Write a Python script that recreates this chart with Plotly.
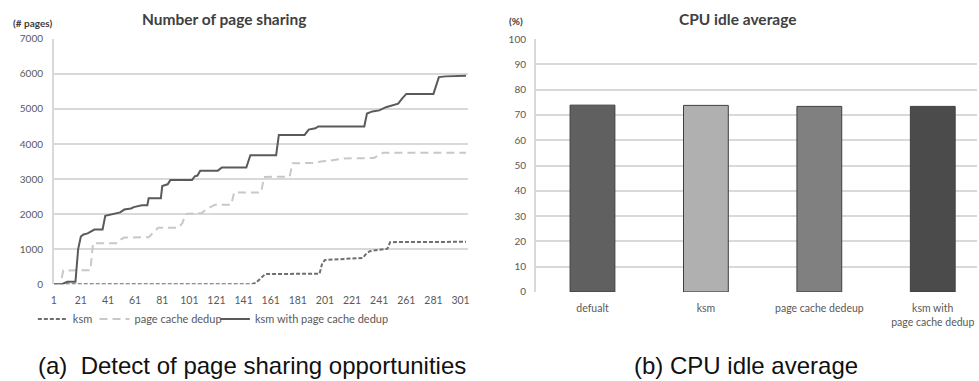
import plotly.graph_objects as go

# ---- Left chart data: Number of page sharing ----
ksm_x = [1, 147, 150, 154, 157, 197, 199, 201, 215, 229, 231, 234, 240, 245, 247, 249, 305]
ksm_y = [0, 0, 40, 200, 290, 300, 600, 690, 720, 750, 850, 940, 980, 1000, 1010, 1200, 1210]

pc_x = [1, 6, 8, 28, 30, 48, 51, 53, 71, 74, 78, 93, 96, 98, 110, 114, 120, 132, 134, 154,
        156, 175, 177, 193, 198, 204, 209, 215, 237, 241, 244, 305]
pc_y = [0, 0, 390, 400, 1170, 1170, 1290, 1330, 1340, 1450, 1610, 1610, 1750, 2000, 2030, 2150,
        2270, 2270, 2620, 2620, 3060, 3070, 3450, 3460, 3500, 3520, 3560, 3590, 3600, 3700, 3750, 3750]

both_x = [1, 7, 11, 17, 19, 21, 23, 26, 31, 37, 39, 48, 50, 53, 58, 60, 66, 70, 71, 80,
          81, 85, 87, 103, 105, 107, 109, 122, 125, 143, 146, 165, 167, 186, 189, 194, 196, 230,
          232, 236, 241, 246, 250, 255, 258, 261, 281, 285, 290, 299, 305]
both_y = [0, 0, 70, 70, 1000, 1360, 1420, 1450, 1560, 1560, 1950, 2020, 2050, 2130, 2160, 2200,
          2250, 2250, 2450, 2450, 2800, 2850, 2970, 2975, 3080, 3100, 3240, 3240, 3330, 3330, 3680,
          3680, 4260, 4260, 4410, 4450, 4500, 4500, 4870, 4930, 4960, 5050, 5100, 5150, 5300, 5430,
          5430, 5910, 5930, 5950, 5950]

left_xticks = list(range(1, 302, 20))
left_yticks = list(range(0, 7001, 1000))

# ---- Right chart data: CPU idle average ----
cpu_categories = ["defualt", "ksm", "page cache dedeup", "ksm with<br>page cache dedup"]
cpu_values = [73.9, 73.8, 73.4, 73.4]
cpu_colors = ["#606060", "#b0b0b0", "#808080", "#4b4b4b"]
right_yticks = list(range(0, 101, 10))

W, H = 979, 381
FONT = "Lato, Carlito, Open Sans, sans-serif"
TICK = "#595959"
GRID = "#d9d9d9"

fig = go.Figure()

fig.add_trace(go.Scatter(x=ksm_x, y=ksm_y, mode="lines", name="ksm",
                         line=dict(color="#6e6e6e", width=2, dash="4px,2px"),
                         xaxis="x", yaxis="y", legend="legend"))
fig.add_trace(go.Scatter(x=pc_x, y=pc_y, mode="lines", name="page cache dedup",
                         line=dict(color="#c8c8c8", width=2, dash="8px,5px"),
                         xaxis="x", yaxis="y", legend="legend2"))
fig.add_trace(go.Scatter(x=both_x, y=both_y, mode="lines", name="ksm with page cache dedup",
                         line=dict(color="#5a5a5a", width=2),
                         xaxis="x", yaxis="y", legend="legend3"))

fig.add_trace(go.Bar(x=cpu_categories, y=cpu_values, marker=dict(color=cpu_colors,
                     line=dict(color="#3f3f3f", width=1)),
                     width=0.395, showlegend=False, xaxis="x2", yaxis="y2"))


def px_x(p):
    return p / W


def px_y(p):
    return 1 - p / H


def leg(xpx):
    return dict(orientation="h", x=px_x(xpx), y=px_y(323), xanchor="left", yanchor="middle",
                font=dict(size=11, color=TICK), itemwidth=30, bgcolor="rgba(0,0,0,0)")


cap_font = dict(family="Liberation Sans, Arial, sans-serif", size=24, color="#111111")
title_font = dict(size=15.5, color="#404040")

fig.update_layout(
    width=W, height=H,
    margin=dict(l=0, r=0, t=0, b=0),
    paper_bgcolor="white", plot_bgcolor="white",
    font=dict(family=FONT, size=10, color=TICK),
    xaxis=dict(domain=[px_x(51), px_x(467)], range=[1, 306.2], tickvals=left_xticks,
               showgrid=False, zeroline=False, showline=False, ticks="",
               ticklabelstandoff=8,
               tickfont=dict(size=10.5, color=TICK), anchor="y"),
    yaxis=dict(domain=[px_y(287), px_y(33)], range=[0, 7000], tickvals=left_yticks,
               showgrid=True, gridcolor=GRID, gridwidth=1.5, zeroline=False,
               showline=True, linecolor=GRID, linewidth=1.5, ticks="",
               ticklabelstandoff=7,
               tickfont=dict(size=10, color=TICK), anchor="x"),
    xaxis2=dict(domain=[px_x(535.5), 1.0], range=[-0.5, 3.39], type="category",
                showgrid=False, zeroline=False, showline=False, ticks="",
                ticklabelstandoff=9,
                tickfont=dict(size=10.5, color=TICK), anchor="y2"),
    yaxis2=dict(domain=[px_y(295), px_y(33.3)], range=[0, 100], tickvals=right_yticks,
                showgrid=True, gridcolor=GRID, gridwidth=1.5, zeroline=False,
                showline=True, linecolor=GRID, linewidth=1.5, ticks="",
                ticklabelstandoff=6,
                tickfont=dict(size=10, color=TICK), anchor="x2"),
    legend=leg(30),
    legend2=leg(92),
    legend3=leg(213),
    annotations=[
        dict(text="<b>Number of page sharing</b>", x=px_x(222), y=px_y(12), xref="paper",
             yref="paper", showarrow=False, xanchor="center", yanchor="middle",
             font=title_font),
        dict(text="<b>(# pages)</b>", x=px_x(8), y=px_y(17), xref="paper", yref="paper",
             showarrow=False, xanchor="left", yanchor="middle",
             font=dict(size=10, color="#404040")),
        dict(text="<b>CPU idle average</b>", x=px_x(739), y=px_y(12), xref="paper",
             yref="paper", showarrow=False, xanchor="center", yanchor="middle",
             font=title_font),
        dict(text="<b>(%)</b>", x=px_x(507), y=px_y(15), xref="paper", yref="paper",
             showarrow=False, xanchor="left", yanchor="middle",
             font=dict(size=10, color="#404040")),
        dict(text="(a)  Detect of page sharing opportunities", x=px_x(33), y=px_y(371),
             xref="paper", yref="paper", showarrow=False, xanchor="left", yanchor="middle",
             font=cap_font),
        dict(text="(b) CPU idle average", x=px_x(632), y=px_y(371),
             xref="paper", yref="paper", showarrow=False, xanchor="left", yanchor="middle",
             font=cap_font),
    ],
)

fig.write_html("out.html")
